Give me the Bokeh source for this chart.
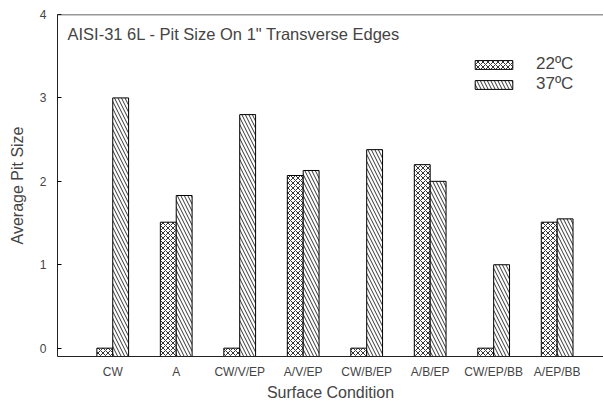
from bokeh.plotting import figure
from bokeh.models import ColumnDataSource, FixedTicker, Legend, LegendItem, Label, Range1d, Span
from bokeh.embed import file_html
from bokeh.resources import INLINE

categories = ["CW", "A", "CW/V/EP", "A/V/EP", "CW/B/EP", "A/B/EP", "CW/EP/BB", "A/EP/BB"]
t22 = [0.0, 1.51, 0.0, 2.07, 0.0, 2.2, 0.0, 1.51]
t37 = [3.0, 1.83, 2.8, 2.13, 2.38, 2.0, 1.0, 1.55]
y_ticks = [0, 1, 2, 3, 4]
series_names = ["22ºC", "37ºC"]
title_text = 'AISI-31 6L - Pit Size On 1" Transverse Edges'

BASE = -0.1
Y_MAX = 4.0
BAR_W = 0.25
FONT = "Liberation Sans"

idx = list(range(len(categories)))
src22 = ColumnDataSource(dict(x=[i - BAR_W / 2 for i in idx], top=t22, bottom=[BASE] * len(idx)))
src37 = ColumnDataSource(dict(x=[i + BAR_W / 2 for i in idx], top=t37, bottom=[BASE] * len(idx)))

p = figure(width=603, height=403, output_backend="svg", toolbar_location=None,
           x_range=Range1d(-0.87, 7.73), y_range=Range1d(BASE, Y_MAX),
           min_border_left=57, min_border_right=0, min_border_top=14, min_border_bottom=46)
p.outline_line_color = None
p.grid.grid_line_color = None
p.background_fill_color = "white"

r22 = p.vbar(x="x", top="top", bottom="bottom", width=BAR_W, source=src22,
             fill_color="white", line_color="black", line_width=1,
             hatch_pattern="diagonal_cross", hatch_color="black", hatch_scale=5, hatch_weight=0.8)
r37 = p.vbar(x="x", top="top", bottom="bottom", width=BAR_W, source=src37,
             fill_color="white", line_color="black", line_width=1,
             hatch_pattern="left_diagonal_line", hatch_color="black", hatch_scale=7, hatch_weight=0.8)

# top frame line
p.add_layout(Span(location=Y_MAX, dimension="width", line_color="#333333", line_width=1.5))

# x axis
p.xaxis.ticker = FixedTicker(ticks=idx)
p.xaxis.major_label_overrides = {i: c for i, c in enumerate(categories)}
p.xaxis.major_tick_line_color = None
p.xaxis.major_tick_out = 0
p.xaxis.major_tick_in = 0
p.xaxis.minor_tick_line_color = None
p.xaxis.minor_tick_out = 0
p.xaxis.axis_line_color = "#222222"
p.xaxis.major_label_standoff = 8
p.xaxis.major_label_text_font = FONT
p.xaxis.major_label_text_font_size = "12px"
p.xaxis.axis_label = "Surface Condition"
p.xaxis.axis_label_text_font = FONT
p.xaxis.axis_label_text_font_size = "16px"
p.xaxis.axis_label_text_font_style = "normal"
p.xaxis.axis_label_standoff = 2

# y axis
p.yaxis.ticker = FixedTicker(ticks=y_ticks)
p.yaxis.major_tick_in = 4
p.yaxis.major_tick_out = 0
p.yaxis.minor_tick_line_color = None
p.yaxis.minor_tick_out = 0
p.yaxis.axis_line_color = "#222222"
p.yaxis.major_label_standoff = 11
p.yaxis.major_label_text_font = FONT
p.yaxis.major_label_text_font_size = "12px"
p.yaxis.axis_label = "Average Pit Size"
p.yaxis.axis_label_text_font = FONT
p.yaxis.axis_label_text_font_size = "16px"
p.yaxis.axis_label_text_font_style = "normal"
p.yaxis.axis_label_standoff = 11

p.add_layout(Label(x=10, y=323, x_units="screen", y_units="screen", text=title_text,
                   text_font=FONT, text_font_size="16.5px", text_baseline="middle"))

legend = Legend(items=[LegendItem(label=series_names[0], renderers=[r22]),
                       LegendItem(label=series_names[1], renderers=[r37])],
                location=(413, 262), padding=0, margin=0, spacing=0,
                glyph_width=47, glyph_height=11, label_height=11, label_standoff=19,
                label_text_font=FONT, label_text_font_size="17px",
                border_line_alpha=0, background_fill_alpha=0)
p.add_layout(legend)

open("out.html", "w").write(file_html(p, INLINE))
